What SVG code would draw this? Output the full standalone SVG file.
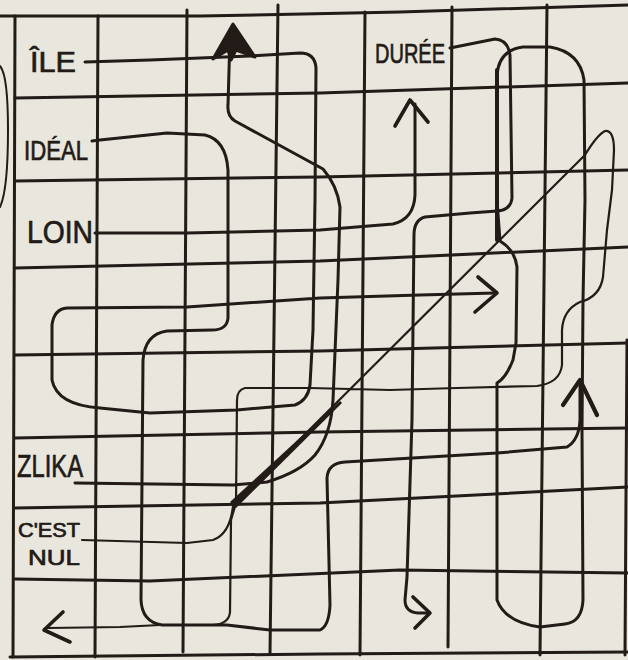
<svg xmlns="http://www.w3.org/2000/svg" width="628" height="660" viewBox="0 0 628 660">
<style>
.g{stroke:#221b17;stroke-width:3;fill:none;stroke-linecap:round;stroke-linejoin:round}
.p{stroke:#221b17;stroke-width:3;fill:none;stroke-linecap:round;stroke-linejoin:round}
.ah{stroke:#221b17;stroke-width:3.6;fill:none;stroke-linecap:round;stroke-linejoin:round}
.lbl{font-family:"Liberation Sans","DejaVu Sans",sans-serif;fill:#221b17;stroke:#221b17;stroke-width:0.7}
</style>
<rect x="0" y="0" width="628" height="660" fill="#e9e6dd"/>
<g id="grid">
<path class="g" d="M0,16 L200,16 L400,12 L628,5"/>
<path class="g" d="M15,98 L320,93 L628,83"/>
<path class="g" d="M15,181 L320,177 L628,170"/>
<path class="g" d="M15,268 L320,261 L628,247"/>
<path class="g" d="M15,355 L320,351 L628,343"/>
<path class="g" d="M15,438 L320,432 L628,428"/>
<path class="g" d="M15,508 L320,503 L628,487"/>
<path class="g" d="M15,579 L150,581 L400,570 L628,573"/>
<path class="g" d="M10,657 L320,654 L628,652"/>
<path class="g" d="M15,16 L13,657"/>
<path class="g" d="M98,16 L95,657"/>
<path class="g" d="M187,10 L183,652"/>
<path class="g" d="M278,5 L270,654"/>
<path class="g" d="M365,12 L360,655"/>
<path class="g" d="M452,7 L448,647"/>
<path class="g" d="M547,5 L540,655"/>
<path class="g" d="M627,340 L625,655"/>
<path class="g" style="stroke-width:2" d="M0,66 Q8,75 8,130 Q8,190 0,207"/>
</g>
<g id="label-ile"><text class="lbl" x="30" y="72" font-size="30" textLength="46" lengthAdjust="spacingAndGlyphs">ÎLE</text></g>
<g id="label-ideal"><text class="lbl" x="24" y="160" font-size="28" textLength="64" lengthAdjust="spacingAndGlyphs">IDÉAL</text></g>
<g id="label-loin"><text class="lbl" x="27" y="243" font-size="32" textLength="66" lengthAdjust="spacingAndGlyphs">LOIN</text></g>
<g id="label-duree"><text class="lbl" x="375" y="63" font-size="28" textLength="70" lengthAdjust="spacingAndGlyphs">DURÉE</text></g>
<g id="label-zlika"><text class="lbl" x="17" y="477" font-size="32" textLength="66" lengthAdjust="spacingAndGlyphs">ZLIKA</text></g>
<g id="label-cestnul"><text class="lbl" x="18" y="537" font-size="20" textLength="62" lengthAdjust="spacingAndGlyphs">C'EST</text><text class="lbl" x="28" y="565" font-size="22" textLength="52" lengthAdjust="spacingAndGlyphs">NUL</text></g>
<g id="connectors">
<!-- ÎLE -->
<path class="p" d="M85,62 L150,60 L250,56 L300,53 Q315,53 316,68 L315,200 L313,330 L310,385 Q308,400 295,405 L237,410 L150,413 L100,408 Q57,405 52,380 L52,325 Q54,309 67,308 L187,307 L320,298 L420,295 L495,293"/>
<path class="ah" d="M478,277 L497,293 L475,312"/>
<!-- IDÉAL -->
<path class="p" d="M92,141 L100,140 L167,133 L205,135 Q226,140 228,170 L228,318 Q227,330 212,330 L167,331 Q145,334 143,360 L141,600 Q142,622 162,625 L227,625 L270,630 L320,630 Q329,626 330,605 L327,478 Q328,463 345,462 L497,453 L567,447 Q579,440 580,420 L580,384"/>
<path class="ah" style="stroke-width:4.2" d="M563,405 L580,380 L597,415"/>
<!-- LOIN -->
<path class="p" d="M95,233 L187,233 L320,230 L393,224 Q414,219 415,195 L415,104"/>
<path class="ah" d="M395,126 L410,100 L428,122"/>
<!-- DURÉE -->
<path class="p" d="M450,48 L480,42 L495,39 Q508,40 510,55 L512,198 Q511,210 497,211 L470,213 L425,217 Q414,220 414,235 L412,420 L407,577 L405,600 Q405,612 418,613 L428,613"/>
<path class="ah" d="M413,597 L430,613 L415,628"/>
<!-- ZLIKA -->
<path class="p" d="M75,483 L233,485 L267,482 Q300,472 315,455 Q331,435 333,400 L338,280 L340,207 Q337,185 323,169 L235,121 Q227,116 228,105 L230,36"/>
<path d="M233,24 L213,59 L228,50 L231,60 L236,50 L255,57 Z" fill="#221b17" stroke="#221b17" stroke-width="3" stroke-linejoin="round"/>
<!-- C'EST NUL -->
<path class="p" d="M82,540 L187,543 L213,540 Q230,534 233,506 L585,155 Q597,135 605,131 Q614,130 614,150 L612,190 L607,230 L603,277 Q600,297 580,302 Q563,310 562,330 L562,365 Q560,383 537,386 L457,388 L390,390 L310,388 L245,388 Q237,390 237,400 L236,503 L231,520 L230,612 Q229,624 213,625 L160,625 L120,627 L48,628" style="stroke-width:2.2"/>
<polygon points="236,508 342,403 340,401 230,502" fill="#221b17"/>
<path class="ah" d="M63,612 L44,630 L70,642"/>
<!-- loop -->
<path class="p" d="M497,383 Q506,378 513,360 L516,343 L517,267 Q515,250 500,241 L497,200 L497,75 Q499,50 523,47 L550,47 Q580,52 584,80 L585,200 L583,300 L582,430 L583,600 Q582,622 565,624 L540,627 Q505,622 497,600 Z"/>
<path class="p" style="stroke-width:4" d="M497,70 L497,240"/>
</g>
</svg>
